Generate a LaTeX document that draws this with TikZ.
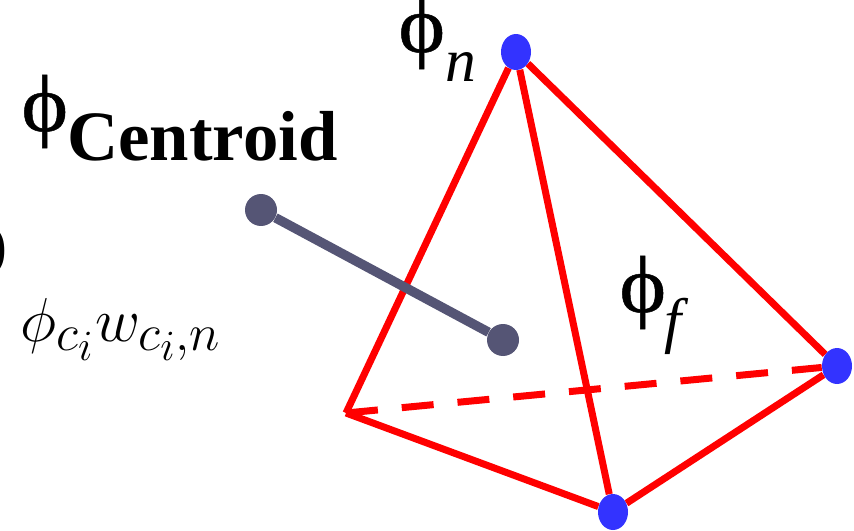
\documentclass[tikz,border=0pt]{standalone}
\usepackage{fontspec}
\setmainfont{Liberation Serif}
\newfontfamily\phifont[FakeStretch=1.1, FakeBold=0.6]{Liberation Serif}
\usepackage{tikz}
\usetikzlibrary{shapes.geometric, backgrounds}
\definecolor{EdgeRed}{RGB}{255, 0, 0}
\definecolor{VertexBlue}{RGB}{51, 51, 255}
\definecolor{CentroidGray}{RGB}{85, 85, 117}

\begin{document}
\begin{tikzpicture}[
        x=0.02cm, y=-0.02cm,
        vertex/.style={
          ellipse,
          fill=VertexBlue,
          inner sep=0pt,
          minimum width=0.6cm,
          minimum height=0.72cm
        },
        centroid/.style={
          circle,
          fill=CentroidGray,
          inner sep=0pt,
          minimum size=0.64cm
        },
        edge/.style={draw=EdgeRed, line width=0.14cm},
        label/.style={inner sep=0pt, anchor=base west},
        bigphi/.style={font=\fontsize{46}{46}\phifont},
        sub/.style={font=\fontsize{35}{35}\selectfont\itshape}
      ]
        \useasboundingbox (0, 0) rectangle (854, 530);

        % tetrahedron
        \coordinate (back) at (346, 413);
        \node (top)    at (516, 52)  [vertex] {};
        \node (right)  at (837, 366) [vertex] {};
        \node (bottom) at (613, 512) [vertex] {};

        \begin{scope}[on background layer]
        \draw[edge] (back) -- (top);
        \draw[edge] (top) -- (right);
        \draw[edge] (top) -- (bottom);
        \draw[edge] (back) -- (bottom);
        \draw[edge] (right) -- (bottom);
        \draw[edge, dash pattern=on 0.64cm off 0.48cm] (back) -- (right);
        \end{scope}

        % centroid segment
        \node (start) at (261, 210) [centroid] {};
        \node (end)   at (503, 340) [centroid] {};
        \draw[draw=CentroidGray, line width=0.19cm] (start) -- (end);

        % labels
        \node (phicent) at (21, 131) [label, bigphi] {ϕ};
        \node (cent)    at (67, 161) [label, font=\fontsize{40.3}{40}\selectfont\bfseries] {Centroid};
        \node (phin)    at (398, 52) [label, bigphi] {ϕ};
        \node (n)       at (445, 82) [label, sub] {n};
        \node (phif)    at (619, 312) [label, bigphi] {ϕ};
        \node (f)       at (664, 341) [label, sub] {f};
        \node (formula) at (20, 341) [label, font=\fontsize{24.88}{30}\selectfont] {\scalebox{1.42}{$\phi_{c_i} w_{c_i,n}$}};
        \node (paren)   at (-13, 265) [label, font=\fontsize{34}{34}\selectfont] {)};
      \end{tikzpicture}
\end{document}
